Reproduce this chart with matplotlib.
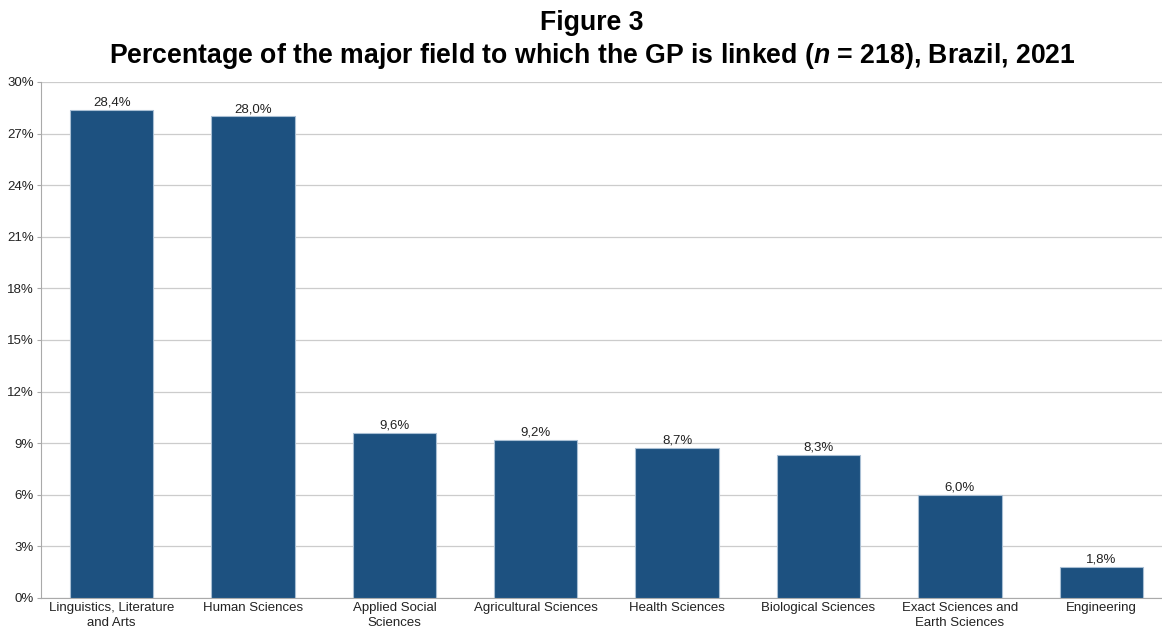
import matplotlib
matplotlib.use("Agg")
import matplotlib.pyplot as plt
from matplotlib.ticker import FuncFormatter

categories = ["Linguistics, Literature\nand Arts", "Human Sciences", "Applied Social\nSciences",
              "Agricultural Sciences", "Health Sciences", "Biological Sciences",
              "Exact Sciences and\nEarth Sciences", "Engineering"]
values = [28.4, 28.0, 9.6, 9.2, 8.7, 8.3, 6.0, 1.8]
yticks = [0, 3, 6, 9, 12, 15, 18, 21, 24, 27, 30]

plt.rcParams['font.family'] = ['Liberation Sans', 'DejaVu Sans']
plt.rcParams['mathtext.fontset'] = 'custom'
plt.rcParams['mathtext.bfit'] = 'Liberation Sans:italic:bold'
plt.rcParams['mathtext.it'] = 'Liberation Sans:italic'
plt.rcParams['mathtext.rm'] = 'Liberation Sans'
plt.rcParams['mathtext.bf'] = 'Liberation Sans:bold'

W, H = 1162, 632
fig = plt.figure(figsize=(W/100, H/100), dpi=100)
ax = fig.add_axes([41/W, 34/H, (W-41)/W, 516/H])

x = list(range(len(values)))
bars = ax.bar(x, values, width=0.59, color='#1d5180', edgecolor='#a9bfd4', linewidth=0.8, zorder=3)
for xi, v in zip(x, values):
    ax.text(xi, v + 0.08, f"{v:.1f}%".replace('.', ','), ha='center', va='bottom', fontsize=9.5, color='#222222', zorder=4)

ax.set_xlim(-0.5, 7.43)
ax.set_ylim(0, 30)
ax.set_yticks(yticks)
ax.yaxis.set_major_formatter(FuncFormatter(lambda v, p: f"{int(v)}%"))
ax.set_xticks(x)
ax.set_xticklabels(categories, fontsize=9.5, color='#222222', linespacing=1.3)
ax.tick_params(axis='y', labelsize=9.5, colors='#222222', length=3, color='#aaaaaa', pad=2)
ax.tick_params(axis='x', length=0, pad=3)
ax.grid(axis='y', color='#cccccc', linewidth=0.9, zorder=0)
for s in ['top', 'right']:
    ax.spines[s].set_visible(False)
ax.spines['left'].set_color('#aaaaaa')
ax.spines['bottom'].set_color('#aaaaaa')

cx = 592 / W
fig.text(cx, 1 - 23/H, "Figure 3", ha='center', va='center', fontsize=19.2, fontweight='bold')
fig.text(cx, 1 - 56/H, r"Percentage of the major field to which the GP is linked ($\mathbfit{n}$ = 218), Brazil, 2021",
         ha='center', va='center', fontsize=19.2, fontweight='bold')

fig.savefig("out.png", dpi=100)
